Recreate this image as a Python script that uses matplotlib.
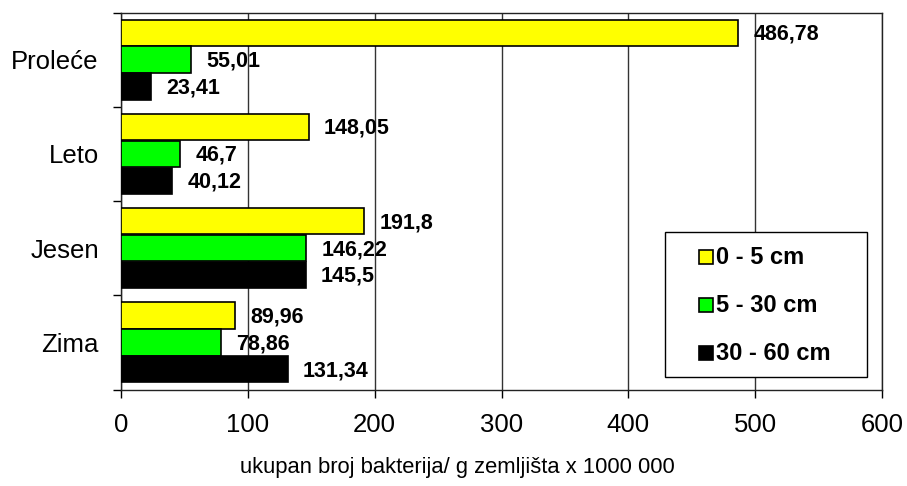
import matplotlib.pyplot as plt
from matplotlib.patches import Rectangle
import numpy as np

plt.rcParams['font.family'] = ['Liberation Sans', 'DejaVu Sans']

seasons = ["Proleće", "Leto", "Jesen", "Zima"]
depths = ["0 - 5 cm", "5 - 30 cm", "30 - 60 cm"]
depth_0_5 = [486.78, 148.05, 191.8, 89.96]
depth_5_30 = [55.01, 46.7, 146.22, 78.86]
depth_30_60 = [23.41, 40.12, 145.5, 131.34]

series = [depth_0_5, depth_5_30, depth_30_60]
colors = ["#ffff00", "#00ff00", "#000000"]
offsets = [-0.285, 0.0, 0.285]
bar_h = 0.28

W, H = 907, 486
fig = plt.figure(figsize=(W / 100, H / 100), dpi=100)
ax = fig.add_axes([121 / W, 1 - 389.5 / H, 761 / W, 377 / H])


def px(x, y):
    # pixel position (from top-left) to figure fraction
    return x / W, 1 - y / H


y = np.arange(len(seasons))
for vals, col, off in zip(series, colors, offsets):
    bars = ax.barh(y + off, vals, height=bar_h, color=col, edgecolor="black",
                   linewidth=1.2, zorder=3)
    for b, v in zip(bars, vals):
        ax.annotate(f"{v:g}".replace(".", ","),
                    xy=(v, b.get_y() + b.get_height() / 2),
                    xytext=(11, -1), textcoords="offset points",
                    va="center", ha="left", fontsize=15.5, fontweight="bold",
                    zorder=4)

ax.set_xlim(0, 600)
ax.set_ylim(len(seasons) - 0.5, -0.5)
ax.set_xticks(np.arange(0, 601, 100))
ax.tick_params(axis="x", labelsize=18.5, length=6, width=1, pad=11)

# category labels sit between the boundary ticks
ax.set_yticks(np.arange(-0.5, len(seasons), 1))
ax.set_yticklabels([])
ax.set_yticks(y, minor=True)
ax.set_yticklabels(seasons, minor=True, fontsize=18.5)
ax.tick_params(axis="y", which="major", length=6, width=1)
ax.tick_params(axis="y", which="minor", length=0, pad=16)

ax.grid(axis="x", color="#333333", linewidth=1, zorder=0)
for s in ax.spines.values():
    s.set_linewidth(1)
    s.set_color("#222222")

ax.set_xlabel("ukupan broj bakterija/ g zemljišta x 1000 000", fontsize=15.8)
ax.xaxis.set_label_coords((457 - 121) / 761, (389.5 - 467) / 377)
ax.xaxis.label.set_va("center")

# legend box
x0, y0 = px(665, 377)
x1, y1 = px(867, 232)
fig.patches.append(Rectangle((x0, y0), x1 - x0, y1 - y0, transform=fig.transFigure,
                             facecolor="white", edgecolor="black", linewidth=1,
                             zorder=5))
for i, (name, col) in enumerate(zip(depths, colors)):
    cy = 257 + i * 48
    sx, sy = px(699, cy + 7)
    fig.patches.append(Rectangle((sx, sy), 14 / W, 14 / H, transform=fig.transFigure,
                                 facecolor=col, edgecolor="black", linewidth=1.2,
                                 zorder=6))
    tx, ty = px(716, cy)
    fig.text(tx, ty, name, fontsize=17, fontweight="bold", va="center",
             ha="left", zorder=6)

fig.savefig("out.png", dpi=100)
